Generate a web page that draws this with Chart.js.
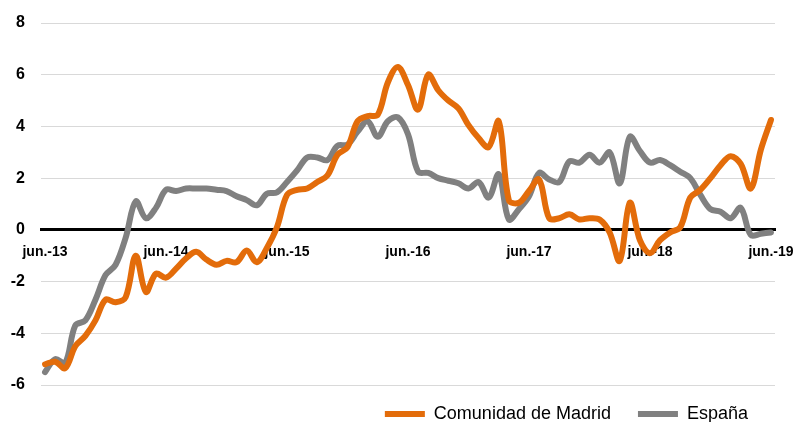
<!DOCTYPE html>
<html lang="es">
<head>
  <meta charset="UTF-8" />
  <title>Comunidad de Madrid vs España</title>
  <script src="https://cdn.jsdelivr.net/npm/chart.js"></script>
  <style>
    html, body {
      margin: 0;
      padding: 0;
      background: #ffffff;
    }
    .wrap {
      position: relative;
      width: 795px;
      height: 422px;
    }
  </style>
</head>
<body>
  <div class="wrap">
    <canvas id="chart"></canvas>
  </div>

  <script>
    // Monthly values, jun.-13 .. jun.-19 (73 months)
    const madrid = [
      -5.2, -5.1, -5.35, -4.5, -4.1, -3.5, -2.7, -2.8, -2.6, -1.0,
      -2.4, -1.7, -1.85, -1.5, -1.1, -0.85, -1.15, -1.35, -1.2, -1.25,
      -0.8, -1.25, -0.7, 0.1, 1.35, 1.55, 1.6, 1.85, 2.1, 2.9,
      3.2, 4.2, 4.4, 4.45, 5.7, 6.3, 5.6, 4.65, 6.0, 5.4,
      5.0, 4.7, 4.05, 3.55, 3.2, 4.2, 1.15, 1.05, 1.5, 1.95,
      0.45, 0.45, 0.6, 0.4, 0.45, 0.4, -0.1, -1.2, 1.05, -0.4,
      -0.9, -0.4, -0.1, 0.1, 1.25, 1.55, 2.0, 2.5, 2.85, 2.55,
      1.6, 3.1, 4.25
    ];
    const espana = [
      -5.5, -5.0, -5.15, -3.7, -3.5, -2.7, -1.75, -1.35, -0.3, 1.1,
      0.45, 0.85, 1.55, 1.5, 1.6, 1.6, 1.6, 1.55, 1.5, 1.3,
      1.15, 0.95, 1.4, 1.45, 1.85, 2.3, 2.8, 2.8, 2.7, 3.25,
      3.3, 3.8, 4.2, 3.6, 4.2, 4.35, 3.7, 2.25, 2.2, 2.0,
      1.9, 1.8, 1.6, 1.85, 1.25, 2.15, 0.4, 0.8, 1.3, 2.2,
      1.95, 1.85, 2.65, 2.6, 2.9, 2.6, 3.0, 1.8, 3.6, 3.05,
      2.6, 2.7, 2.5, 2.25, 2.0, 1.35, 0.8, 0.7, 0.45, 0.85,
      -0.2, -0.15, -0.1
    ];
    const tickLabels = ['jun.-13', 'jun.-14', 'jun.-15', 'jun.-16', 'jun.-17', 'jun.-18', 'jun.-19'];
    const yTicks = [-6, -4, -2, 0, 2, 4, 6, 8];

    const toPoints = (arr) => arr.map((v, i) => ({ x: i, y: v }));

    // nudge the legend up a little after layout
    const legendNudge = {
      id: 'legendNudge',
      afterLayout(chart) {
        if (chart.legend) {
          chart.legend.top -= 7;
          chart.legend.bottom -= 7;
        }
      }
    };

    const ctx = document.getElementById('chart').getContext('2d');
    new Chart(ctx, {
      type: 'line',
      data: {
        datasets: [
          {
            label: 'Comunidad de Madrid',
            data: toPoints(madrid),
            borderColor: '#e36c0a',
            backgroundColor: '#e36c0a',
            borderWidth: 6,
            borderCapStyle: 'round',
            borderJoinStyle: 'round',
            pointRadius: 0,
            tension: 0.35
          },
          {
            label: 'España',
            data: toPoints(espana),
            borderColor: '#808080',
            backgroundColor: '#808080',
            borderWidth: 6,
            borderCapStyle: 'round',
            borderJoinStyle: 'round',
            pointRadius: 0,
            tension: 0.35
          }
        ]
      },
      plugins: [legendNudge],
      options: {
        responsive: true,
        maintainAspectRatio: false,
        animation: false,
        layout: { padding: { left: 11, right: 20, top: 23, bottom: -18 } },
        plugins: {
          tooltip: { enabled: false },
          legend: {
            position: 'bottom',
            align: 'end',
            labels: {
              usePointStyle: true,
              pointStyle: 'line',
              pointStyleWidth: 40,
              color: '#000000',
              padding: 27,
              font: { family: "'Liberation Sans', Arial, sans-serif", size: 18 }
            }
          }
        },
        scales: {
          x: {
            type: 'linear',
            position: { y: 0 },
            min: -0.4,
            max: 72.4,
            afterBuildTicks: (scale) => {
              scale.ticks = tickLabels.map((_, i) => ({ value: i * 12 }));
            },
            afterFit: (scale) => {
              scale.height = 0;
              scale.paddingLeft = 0;
              scale.paddingRight = 0;
            },
            grid: { display: false, drawTicks: false },
            border: { display: true, color: '#000000', width: 3 },
            ticks: {
              autoSkip: false,
              maxRotation: 0,
              padding: 14,
              color: '#000000',
              font: { family: "'Liberation Sans', Arial, sans-serif", size: 14, weight: 'bold' },
              callback: (v) => tickLabels[Math.round(v / 12)]
            }
          },
          y: {
            min: -6,
            max: 8,
            afterBuildTicks: (scale) => {
              scale.ticks = yTicks.map((v) => ({ value: v }));
            },
            afterFit: (scale) => {
              scale.width = 30;
              scale.paddingTop = 0;
              scale.paddingBottom = 0;
            },
            grid: { color: '#d9d9d9', lineWidth: 1, drawTicks: false },
            border: { display: false },
            ticks: {
              padding: 16,
              color: '#000000',
              font: { family: "'Liberation Sans', Arial, sans-serif", size: 16, weight: 'bold' }
            }
          }
        }
      }
    });
  </script>
</body>
</html>
